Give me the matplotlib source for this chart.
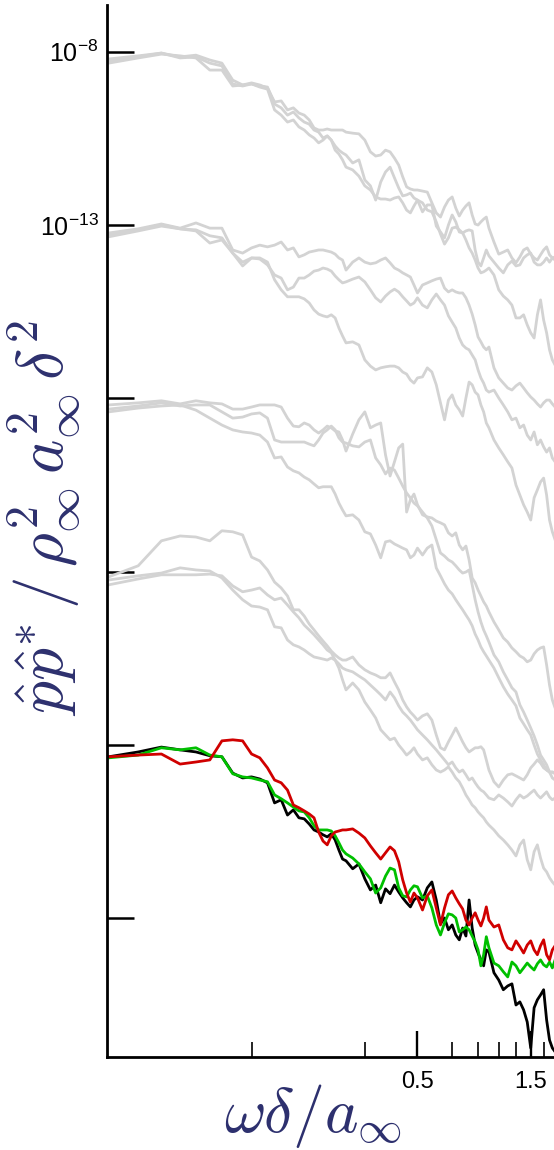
import numpy as np
import matplotlib
matplotlib.use("Agg")
import matplotlib.pyplot as plt
from matplotlib.ticker import FixedLocator, FixedFormatter, NullFormatter, NullLocator

plt.rcParams['font.family'] = ['Liberation Sans', 'DejaVu Sans']
plt.rcParams['mathtext.fontset'] = 'custom'
plt.rcParams['mathtext.rm'] = 'Liberation Sans'
plt.rcParams['mathtext.it'] = 'Liberation Sans:italic'
plt.rcParams['mathtext.bf'] = 'Liberation Sans:bold'

# Frequency samples (omega * delta / a_inf)
omega = [0.025, 0.0333, 0.0417, 0.05, 0.0583, 0.0667, 0.075, 0.0833, 0.0917, 0.1,
         0.1083, 0.1167, 0.125, 0.1333, 0.1417, 0.15, 0.1583, 0.1667, 0.175, 0.1833,
         0.1917, 0.2, 0.2083, 0.2167, 0.225, 0.2333, 0.2417, 0.25,
         0.2667, 0.2833, 0.3, 0.3167, 0.3333, 0.35, 0.3667, 0.3833, 0.4, 0.4167,
         0.4333, 0.45, 0.4667, 0.4833, 0.5,
         0.525, 0.55, 0.575, 0.6, 0.625, 0.65, 0.675, 0.7, 0.725, 0.75,
         0.775, 0.8, 0.825, 0.85, 0.875, 0.9, 0.925, 0.95, 0.975, 1.0,
         1.05, 1.1, 1.15, 1.2, 1.25, 1.3, 1.35, 1.4, 1.45, 1.5,
         1.55, 1.6, 1.65, 1.7, 1.75, 1.8, 1.85, 1.9]

# Spectra stored as log10 of p p* / (rho^2 a^2 delta^2)
# Bottom set (coloured)
black_log = [-28.34, -28.20, -28.06, -28.14, -28.20, -28.31, -28.34, -28.81, -28.95, -28.92,
             -28.98, -29.09, -29.67, -29.58, -30.02, -29.87, -30.10, -30.13, -30.28, -30.45,
             -30.51, -30.59, -30.65, -30.56, -30.74, -31.03, -31.29, -31.34,
             -31.57, -31.43, -31.86, -32.18, -32.04, -32.55, -32.15, -32.29, -32.04, -32.24,
             -32.41, -32.55, -32.67, -32.47, -32.38,
             -32.47, -32.12, -31.95, -32.47, -33.16, -32.99, -33.33, -33.19, -33.48, -33.62,
             -33.28, -33.51, -32.47, -33.28, -33.77, -34.00, -34.20, -34.37, -33.91, -33.97,
             -34.57, -34.78, -35.06, -34.95, -34.89, -35.50, -35.41, -35.64, -35.99, -36.74,
             -35.58, -35.35, -35.21, -35.06, -35.93, -36.51, -36.74, -36.85]
green_log = [-28.37, -28.29, -28.08, -28.14, -28.08, -28.29, -28.34, -28.83, -28.92, -28.95,
             -29.01, -29.06, -29.44, -29.55, -29.67, -29.79, -29.90, -29.93, -30.10, -30.33,
             -30.45, -30.45, -30.45, -30.48, -30.62, -30.82, -31.03, -31.14,
             -31.26, -31.43, -31.66, -31.86, -32.27, -32.12, -31.78, -31.55, -31.60, -32.12,
             -32.35, -32.38, -32.18, -32.06, -32.09,
             -32.41, -32.35, -32.70, -33.19, -33.48, -33.13, -32.87, -32.90, -32.99, -33.39,
             -33.33, -33.25, -33.33, -33.51, -33.68, -33.91, -34.37, -34.05, -33.53, -33.85,
             -34.29, -34.37, -34.54, -34.69, -34.26, -34.37, -34.57, -34.43, -34.29, -34.40,
             -34.49, -34.31, -34.20, -34.34, -34.40, -34.26, -34.43, -34.20]
red_log = [-28.34, -28.29, -28.26, -28.55, -28.49, -28.43, -27.88, -27.85, -27.88, -28.26,
           -28.37, -28.66, -29.01, -29.09, -29.30, -29.73, -29.81, -29.90, -29.99, -30.10,
           -30.51, -30.77, -30.88, -30.62, -30.51, -30.48, -30.45, -30.45,
           -30.42, -30.54, -30.68, -30.91, -31.11, -31.29, -31.11, -30.94, -31.05, -31.37,
           -31.89, -32.27, -32.53, -32.27, -32.41,
           -32.76, -32.35, -32.18, -32.70, -33.19, -32.70, -32.32, -32.21, -32.41, -32.58,
           -32.73, -33.05, -33.19, -32.99, -32.84, -33.05, -33.22, -32.99, -32.67, -33.05,
           -33.25, -33.19, -33.62, -33.85, -33.91, -33.65, -33.82, -34.00, -33.77, -33.65,
           -33.91, -34.05, -33.79, -33.62, -34.05, -34.20, -33.91, -33.79]

# Upper sets (grey), each shifted by five decades
set1_a = [-8.21, -8.12, -8.04, -8.15, -8.10, -8.24, -8.33, -8.82, -8.96, -8.90,
          -8.96, -9.05, -9.45, -9.42, -9.68, -9.62, -9.77, -9.83, -9.97, -10.20,
          -10.26, -10.26, -10.23, -10.26, -10.26, -10.26, -10.26, -10.32,
          -10.35, -10.37, -10.55, -10.89, -11.01, -10.98, -10.84, -10.89, -11.07, -11.27,
          -11.61, -11.90, -11.96, -11.99, -11.99,
          -12.02, -12.05, -12.36, -12.65, -12.77, -12.48, -12.28, -12.19, -12.51, -12.74,
          -12.57, -12.45, -12.36, -12.71, -12.97, -13.00, -12.91, -12.83, -12.77, -13.09,
          -13.49, -13.84, -13.78, -13.72, -13.95, -14.09, -13.92, -13.72, -13.66, -13.84,
          -13.95, -14.01, -13.86, -13.72, -13.63, -13.86, -13.95, -14.01]
set1_b = [-8.27, -8.15, -8.04, -8.18, -8.15, -8.33, -8.41, -8.93, -8.99, -8.93,
          -8.99, -9.02, -9.51, -9.62, -9.83, -9.74, -9.91, -10.03, -10.09, -10.26,
          -10.32, -10.49, -10.43, -10.55, -10.72, -10.84, -10.92, -10.98,
          -11.21, -11.12, -11.70, -11.87, -12.28, -11.76, -11.47, -11.33, -11.64, -11.93,
          -12.16, -12.13, -12.08, -12.22, -12.28,
          -12.62, -12.42, -12.42, -13.03, -13.20, -13.37, -13.00, -12.71, -12.91, -13.20,
          -13.23, -13.17, -13.14, -13.17, -13.72, -14.07, -14.18, -13.95, -13.72, -13.89,
          -14.07, -14.24, -14.38, -14.15, -14.04, -14.18, -14.15, -13.95, -13.86, -13.81,
          -14.07, -14.15, -14.15, -14.07, -13.95, -14.07, -13.95, -13.92]
set1_c = [-8.33, -8.18, -8.07, -8.12, -8.18, -8.53, -8.53, -8.99, -8.96, -8.93,
          -9.02, -9.08, -9.68, -9.83, -10.03, -9.97, -10.17, -10.26, -10.40, -10.49,
          -10.63, -10.55, -10.43, -10.55, -10.84, -10.95, -11.12, -11.33,
          -11.41, -11.59, -11.87, -11.99, -12.19, -12.25, -12.25, -12.28, -12.22, -12.19,
          -12.36, -12.57, -12.65, -12.45, -12.28,
          -12.36, -12.57, -12.62, -12.91, -13.26, -13.55, -13.37, -13.09, -13.06, -13.14,
          -13.23, -13.43, -13.66, -13.81, -14.01, -14.24, -14.38, -14.35, -14.30, -14.24,
          -14.44, -14.87, -15.05, -15.16, -15.31, -15.68, -15.68, -15.59, -15.88, -16.11,
          -16.26, -15.59, -15.16, -15.74, -16.11, -16.60, -16.89, -17.04]

set2_a = [-13.23, -13.11, -12.97, -13.09, -12.94, -13.09, -13.09, -13.72, -13.81, -13.66,
          -13.58, -13.63, -13.58, -13.49, -13.72, -13.66, -13.92, -13.86, -13.78, -13.75,
          -13.72, -13.72, -13.75, -13.78, -13.84, -13.95, -14.01, -14.30,
          -14.07, -13.95, -14.07, -14.12, -14.09, -14.01, -13.95, -14.09, -14.24, -14.30,
          -14.38, -14.44, -14.50, -14.73, -14.96,
          -14.73, -14.67, -14.61, -14.56, -14.53, -14.82, -14.93, -14.87, -14.93, -14.96,
          -14.96, -15.10, -15.31, -15.57, -15.88, -16.23, -16.37, -16.52, -16.60, -16.52,
          -17.12, -17.41, -17.56, -17.70, -17.76, -17.64, -17.56, -17.70, -17.84, -17.96,
          -18.05, -18.16, -18.25, -18.13, -18.05, -18.05, -18.16, -18.25]
set2_b = [-13.29, -13.14, -13.00, -13.11, -13.14, -13.31, -13.37, -13.81, -14.07, -13.95,
          -13.98, -14.15, -14.44, -14.53, -14.87, -14.79, -14.53, -14.53, -14.44, -14.33,
          -14.30, -14.24, -14.27, -14.33, -14.47, -14.58, -14.67, -14.64,
          -14.56, -14.50, -14.64, -14.87, -15.10, -15.22, -15.05, -14.93, -14.85, -14.93,
          -15.07, -15.19, -15.31, -15.25, -15.10,
          -15.31, -15.39, -15.16, -14.99, -15.16, -15.31, -15.62, -15.80, -15.97, -16.26,
          -16.46, -16.55, -16.60, -16.75, -16.89, -17.18, -17.41, -17.56, -17.76, -17.82,
          -17.76, -17.99, -18.19, -18.39, -18.62, -18.57, -18.85, -18.77, -19.06, -19.20,
          -18.97, -19.34, -19.20, -19.40, -19.55, -19.43, -19.72, -19.83]
set2_c = [-13.34, -13.17, -13.03, -13.11, -13.17, -13.52, -13.43, -13.81, -14.18, -13.95,
          -13.95, -14.07, -14.58, -14.87, -15.07, -15.07, -15.07, -15.13, -15.25, -15.45,
          -15.57, -15.62, -15.65, -15.59, -15.68, -15.97, -16.20, -16.40,
          -16.37, -16.46, -16.89, -17.07, -17.18, -17.12, -17.09, -17.07, -17.07, -17.12,
          -17.24, -17.30, -17.47, -17.56, -17.41,
          -17.38, -17.12, -17.24, -17.61, -18.13, -18.62, -18.05, -17.90, -18.19, -18.33,
          -18.51, -17.99, -17.53, -17.61, -17.82, -17.90, -18.19, -18.39, -18.71, -18.85,
          -19.20, -19.43, -19.63, -19.83, -20.01, -20.50, -20.79, -21.07, -21.28, -21.51,
          -20.87, -20.64, -20.41, -20.30, -20.79, -21.51, -21.85, -22.08]

set3_a = [-18.19, -18.13, -18.07, -18.16, -18.07, -18.13, -18.16, -18.31, -18.31, -18.25,
          -18.19, -18.19, -18.19, -18.25, -18.57, -18.80, -18.82, -18.71, -18.77, -18.91,
          -19.00, -18.91, -18.80, -18.85, -18.94, -18.97, -19.20, -19.52,
          -19.03, -18.62, -18.39, -18.85, -18.77, -18.71, -19.63, -20.24, -19.83, -19.43,
          -19.32, -21.28, -20.93, -20.76, -21.07,
          -21.36, -21.42, -21.45, -21.54, -21.59, -21.65, -21.88, -21.97, -21.88, -22.23,
          -22.37, -22.26, -22.66, -23.18, -23.32, -23.53, -23.70, -23.87, -23.99, -24.16,
          -24.45, -24.68, -24.91, -25.03, -25.20, -25.31, -25.43, -25.49, -25.60, -25.55,
          -25.37, -25.26, -25.20, -25.17, -25.69, -26.27, -26.70, -26.93]
set3_b = [-18.31, -18.22, -18.13, -18.22, -18.19, -18.19, -18.39, -18.57, -18.54, -18.45,
          -18.42, -18.57, -19.20, -19.26, -19.26, -19.26, -19.26, -19.26, -19.32, -19.37,
          -19.20, -19.00, -18.91, -18.80, -18.91, -19.14, -19.26, -19.29,
          -19.37, -19.40, -19.26, -19.20, -19.72, -19.92, -20.18, -20.01, -20.07, -20.30,
          -20.53, -20.73, -20.87, -21.02, -21.10,
          -21.28, -21.45, -21.68, -22.08, -22.46, -22.55, -22.66, -22.72, -22.83, -22.95,
          -23.04, -23.01, -22.95, -23.38, -23.81, -24.16, -24.45, -24.68, -24.85, -25.03,
          -25.40, -25.60, -25.89, -26.12, -26.35, -26.47, -26.84, -27.05, -27.28, -27.51,
          -27.74, -28.00, -28.29, -28.43, -28.57, -28.78, -28.95, -29.01]
set3_c = [-18.39, -18.28, -18.22, -18.19, -18.34, -18.57, -18.77, -18.91, -18.97, -19.00,
          -19.06, -19.26, -19.72, -19.69, -19.98, -20.09, -20.15, -20.27, -20.35, -20.47,
          -20.58, -20.55, -20.55, -20.55, -20.76, -21.02, -21.22, -21.39,
          -21.36, -21.51, -21.85, -21.91, -22.23, -22.60, -22.14, -22.11, -22.20, -22.26,
          -22.32, -22.37, -22.60, -22.52, -22.32,
          -22.52, -22.32, -22.23, -22.89, -23.12, -23.35, -23.53, -23.64, -23.81, -23.96,
          -24.10, -24.25, -24.39, -24.56, -24.80, -24.97, -25.17, -25.31, -25.43, -25.55,
          -25.78, -26.06, -26.32, -26.53, -26.70, -26.87, -27.22, -27.39, -27.56, -27.71,
          -28.00, -28.26, -28.43, -28.57, -28.72, -28.78, -28.78, -28.83]

set4_a = [-23.15, -22.83, -22.11, -21.97, -22.00, -22.11, -21.82, -21.85, -21.94, -22.58,
          -22.69, -22.95, -23.30, -23.47, -23.70, -24.10, -24.10, -24.28, -24.51, -24.68,
          -24.85, -25.00, -25.14, -25.29, -25.40, -25.49, -25.55, -25.55,
          -25.46, -25.69, -25.83, -25.92, -25.98, -26.06, -26.06, -25.92, -26.18, -26.41,
          -26.70, -26.90, -27.05, -27.16, -27.28,
          -27.16, -27.10, -27.28, -27.71, -28.08, -28.14, -27.91, -27.71, -27.51, -27.71,
          -27.91, -28.08, -28.20, -28.14, -28.08, -28.08, -28.05, -28.14, -28.43, -28.72,
          -29.06, -29.21, -29.01, -28.86, -28.83, -28.89, -28.95, -29.01, -28.86, -28.66,
          -28.55, -28.43, -28.52, -28.66, -28.72, -28.78, -28.78, -28.80]
set4_b = [-23.24, -23.12, -23.04, -22.89, -22.95, -22.98, -23.18, -23.53, -23.81, -23.99,
          -24.02, -24.10, -24.59, -24.62, -24.97, -25.11, -25.17, -25.26, -25.37, -25.46,
          -25.49, -25.52, -25.55, -25.49, -25.55, -25.78, -26.12, -26.41,
          -26.21, -26.41, -26.76, -26.99, -27.22, -27.56, -27.71, -27.85, -27.80, -28.00,
          -28.14, -28.29, -28.20, -28.08, -28.26,
          -28.43, -28.37, -28.57, -28.72, -28.78, -28.72, -28.63, -28.78, -28.95, -29.06,
          -29.24, -29.44, -29.58, -29.73, -29.81, -29.93, -30.02, -30.10, -30.22, -30.31,
          -30.45, -30.62, -30.74, -30.88, -31.03, -31.20, -30.88, -30.74, -31.31, -31.60,
          -31.08, -30.88, -31.26, -31.55, -31.66, -31.83, -31.95, -32.04]
set4_c = [-23.38, -23.21, -23.09, -23.09, -23.09, -23.07, -23.12, -23.41, -23.58, -23.53,
          -23.47, -23.67, -23.81, -23.76, -23.96, -24.16, -24.33, -24.54, -24.68, -24.82,
          -24.97, -25.11, -25.26, -25.34, -25.55, -25.66, -25.78, -25.83,
          -25.89, -26.01, -26.12, -26.27, -26.41, -26.55, -26.70, -26.47, -26.64, -26.87,
          -27.05, -27.16, -27.28, -27.42, -27.56,
          -27.71, -27.85, -28.00, -28.14, -28.29, -28.43, -28.57, -28.49, -28.66, -28.78,
          -28.72, -28.86, -29.01, -28.95, -29.09, -29.21, -29.30, -29.35, -29.44, -29.53,
          -29.58, -29.44, -29.53, -29.64, -29.76, -29.58, -29.44, -29.53, -29.47, -29.38,
          -29.30, -29.44, -29.53, -29.44, -29.35, -29.50, -29.58, -29.53]

grey_sets = [set1_a, set1_b, set1_c, set2_a, set2_b, set2_c,
             set3_a, set3_b, set3_c, set4_a, set4_b, set4_c]

y_tick_values = [1e-8, 1e-13, 1e-18, 1e-23, 1e-28, 1e-33]
y_tick_labels = ['10$^{-8}$', '10$^{-13}$', '', '', '', '']
x_major_ticks = [0.5, 1.5]
x_major_labels = ['0.5', '1.5']
x_minor_ticks = [0.1, 0.3, 0.7, 0.9, 1.1, 1.3, 1.7]

W, H = 554, 1150
fig = plt.figure(figsize=(W / 100, H / 100), dpi=100)
ax = fig.add_axes([107 / W, 1 - 1057 / H, 1 - 107 / W, (1057 - 5) / H])

w = np.array(omega)
lw = 2.0
for s in grey_sets:
    ax.plot(w, 10.0 ** np.array(s), color='#d3d3d3', lw=lw)
ax.plot(w, 10.0 ** np.array(black_log), color='black', lw=lw)
ax.plot(w, 10.0 ** np.array(green_log), color='#00c000', lw=lw)
ax.plot(w, 10.0 ** np.array(red_log), color='#d00000', lw=lw)

ax.set_xscale('log')
ax.set_yscale('log')
ax.set_xlim(0.0246, 1.88)
ax.set_ylim(1e-37, 10 ** -6.653)

ax.xaxis.set_major_locator(FixedLocator(x_major_ticks))
ax.xaxis.set_major_formatter(FixedFormatter(x_major_labels))
ax.xaxis.set_minor_locator(FixedLocator(x_minor_ticks))
ax.xaxis.set_minor_formatter(NullFormatter())
ax.yaxis.set_major_locator(FixedLocator(y_tick_values))
ax.yaxis.set_major_formatter(FixedFormatter(y_tick_labels))
ax.yaxis.set_minor_locator(NullLocator())

for side in ('top', 'right'):
    ax.spines[side].set_visible(False)
for side in ('left', 'bottom'):
    ax.spines[side].set_linewidth(2.0)

ax.tick_params(axis='y', which='major', direction='in', length=19.5, width=1.8,
               labelsize=18, pad=6)
ax.tick_params(axis='x', which='major', direction='in', length=18.5, width=1.7,
               labelsize=17, pad=10)
ax.tick_params(axis='x', which='minor', direction='in', length=10.5, width=1.2)

label_color = '#2d306e'
fig.text(313 / W, 1 - 1116 / H, r'$\omega\delta/a_{\infty}$', ha='center', va='center',
         fontsize=46, color=label_color, math_fontfamily='cm')
fig.text(45 / W, 1 - 518 / H,
         r'$\hat{p}\hat{p}^{*}\,/\,\rho_{\infty}^{2}\,a_{\infty}^{2}\,\delta^{2}$',
         ha='center', va='center', rotation=90, fontsize=47, color=label_color,
         math_fontfamily='cm')

fig.savefig('out.png', dpi=100)
